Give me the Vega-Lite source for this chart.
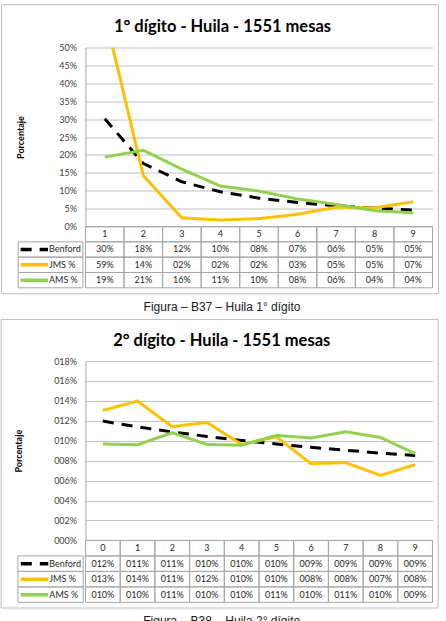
{
  "$schema": "https://vega.github.io/schema/vega-lite/v6.json",
  "background": "white",
  "padding": {"left": 0.5, "top": 3.5, "right": 0, "bottom": 0},
  "config": {"view": {"stroke": null}, "font": "Lato"},
  "spacing": 5.5,
  "datasets": {
    "uno": [
      {"serie": "Benford", "digito": 1, "valor": 0.301},
      {"serie": "Benford", "digito": 2, "valor": 0.176},
      {"serie": "Benford", "digito": 3, "valor": 0.1249},
      {"serie": "Benford", "digito": 4, "valor": 0.0969},
      {"serie": "Benford", "digito": 5, "valor": 0.0792},
      {"serie": "Benford", "digito": 6, "valor": 0.0669},
      {"serie": "Benford", "digito": 7, "valor": 0.058},
      {"serie": "Benford", "digito": 8, "valor": 0.0512},
      {"serie": "Benford", "digito": 9, "valor": 0.0458},
      {"serie": "JMS %", "digito": 1, "valor": 0.593},
      {"serie": "JMS %", "digito": 2, "valor": 0.142},
      {"serie": "JMS %", "digito": 3, "valor": 0.024},
      {"serie": "JMS %", "digito": 4, "valor": 0.018},
      {"serie": "JMS %", "digito": 5, "valor": 0.022},
      {"serie": "JMS %", "digito": 6, "valor": 0.034},
      {"serie": "JMS %", "digito": 7, "valor": 0.054},
      {"serie": "JMS %", "digito": 8, "valor": 0.052},
      {"serie": "JMS %", "digito": 9, "valor": 0.069},
      {"serie": "AMS %", "digito": 1, "valor": 0.194},
      {"serie": "AMS %", "digito": 2, "valor": 0.213},
      {"serie": "AMS %", "digito": 3, "valor": 0.16},
      {"serie": "AMS %", "digito": 4, "valor": 0.113},
      {"serie": "AMS %", "digito": 5, "valor": 0.099},
      {"serie": "AMS %", "digito": 6, "valor": 0.077},
      {"serie": "AMS %", "digito": 7, "valor": 0.062},
      {"serie": "AMS %", "digito": 8, "valor": 0.044},
      {"serie": "AMS %", "digito": 9, "valor": 0.038}
    ],
    "dos": [
      {"serie": "Benford", "digito": 0, "valor": 0.1197},
      {"serie": "Benford", "digito": 1, "valor": 0.1139},
      {"serie": "Benford", "digito": 2, "valor": 0.1088},
      {"serie": "Benford", "digito": 3, "valor": 0.1043},
      {"serie": "Benford", "digito": 4, "valor": 0.1003},
      {"serie": "Benford", "digito": 5, "valor": 0.0967},
      {"serie": "Benford", "digito": 6, "valor": 0.0934},
      {"serie": "Benford", "digito": 7, "valor": 0.0904},
      {"serie": "Benford", "digito": 8, "valor": 0.0876},
      {"serie": "Benford", "digito": 9, "valor": 0.0852},
      {"serie": "JMS %", "digito": 0, "valor": 0.1304},
      {"serie": "JMS %", "digito": 1, "valor": 0.1398},
      {"serie": "JMS %", "digito": 2, "valor": 0.1141},
      {"serie": "JMS %", "digito": 3, "valor": 0.1184},
      {"serie": "JMS %", "digito": 4, "valor": 0.0962},
      {"serie": "JMS %", "digito": 5, "valor": 0.104},
      {"serie": "JMS %", "digito": 6, "valor": 0.077},
      {"serie": "JMS %", "digito": 7, "valor": 0.078},
      {"serie": "JMS %", "digito": 8, "valor": 0.0652},
      {"serie": "JMS %", "digito": 9, "valor": 0.076},
      {"serie": "AMS %", "digito": 0, "valor": 0.0967},
      {"serie": "AMS %", "digito": 1, "valor": 0.096},
      {"serie": "AMS %", "digito": 2, "valor": 0.108},
      {"serie": "AMS %", "digito": 3, "valor": 0.0963},
      {"serie": "AMS %", "digito": 4, "valor": 0.0955},
      {"serie": "AMS %", "digito": 5, "valor": 0.1054},
      {"serie": "AMS %", "digito": 6, "valor": 0.1027},
      {"serie": "AMS %", "digito": 7, "valor": 0.109},
      {"serie": "AMS %", "digito": 8, "valor": 0.1033},
      {"serie": "AMS %", "digito": 9, "valor": 0.087}
    ]
  },
  "vconcat": [
    {
      "title": {"text": "Figura – B37 – Huila 1° dígito", "orient": "bottom", "anchor": "middle", "font": "Liberation Sans", "fontSize": 12, "fontWeight": "normal", "color": "#1a1a1a", "baseline": "middle", "offset": 12.2, "dx": 2},
      "vconcat": [
        {
          "width": 347,
          "height": 179,
          "title": {"text": "1° dígito - Huila - 1551 mesas", "font": "Lato", "fontSize": 16.5, "fontWeight": "bold", "color": "#000000", "anchor": "middle", "frame": "group", "baseline": "middle", "offset": -39.5, "dx": -36.5},
          "resolve": {"scale": {"x": "independent", "y": "independent"}},
          "layer": [
            {
              "data": {"values": [{}]},
              "mark": {"type": "rect", "fill": "transparent", "stroke": "#bcbcbc", "strokeWidth": 1},
              "encoding": {
                "x": {"datum": 0, "scale": {"domain": [0, 1], "range": [-84, 353]}, "axis": null},
                "x2": {"datum": 1},
                "y": {"datum": 0, "scale": {"domain": [0, 1], "range": [-42.7, 246.3]}, "axis": null},
                "y2": {"datum": 1}
              }
            },
            {
              "data": {"name": "uno"},
              "mark": {"type": "line", "strokeWidth": 3, "clip": true, "strokeJoin": "round"},
              "encoding": {
                "x": {"field": "digito", "type": "ordinal", "bandPosition": 0.5, "scale": {"type": "band", "domain": [1, 2, 3, 4, 5, 6, 7, 8, 9], "range": [0, 347], "paddingInner": 0, "paddingOuter": 0}, "axis": null},
                "y": {
                  "field": "valor", "type": "quantitative",
                  "scale": {"domain": [0, 0.5], "range": [179, 0], "nice": false},
                  "axis": {"values": [0, 0.05, 0.1, 0.15, 0.2, 0.25, 0.3, 0.35, 0.4, 0.45, 0.5], "format": ".0%", "title": "Porcentaje", "titleFont": "Lato", "titleFontSize": 9, "titleFontWeight": "bold", "titleColor": "#000000", "titlePadding": 33, "labelFont": "Lato", "labelFontSize": 9, "labelColor": "#404040", "labelPadding": 9, "ticks": false, "domain": true, "domainColor": "#a6a6a6", "grid": true, "gridColor": "#bfbfbf"}
                },
                "color": {"field": "serie", "type": "nominal", "scale": {"domain": ["Benford", "JMS %", "AMS %"], "range": ["#000000", "#FFC000", "#92D050"]}, "legend": null},
                "strokeDash": {"field": "serie", "type": "nominal", "scale": {"domain": ["Benford", "JMS %", "AMS %"], "range": [[11, 8], [1, 0], [1, 0]]}, "legend": null}
              }
            },
            {
              "data": {"name": "uno"},
              "layer": [
                {
                  "transform": [{"filter": "datum.serie === 'Benford'"}],
                  "mark": {"type": "rect", "fill": "transparent", "stroke": "#a6a6a6", "strokeWidth": 1},
                  "encoding": {
                    "x": {"field": "digito", "type": "ordinal", "scale": {"type": "band", "domain": [1, 2, 3, 4, 5, 6, 7, 8, 9], "range": [0, 347], "paddingInner": 0, "paddingOuter": 0}, "axis": null},
                    "y": {"datum": "encabezado", "type": "nominal", "scale": {"type": "band", "domain": ["encabezado", "Benford", "JMS %", "AMS %"], "range": [179, 240.3], "paddingInner": 0, "paddingOuter": 0}, "axis": null}
                  }
                },
                {
                  "transform": [{"filter": "datum.serie === 'Benford'"}],
                  "mark": {"type": "text", "font": "Lato", "fontSize": 9, "color": "#262626", "align": "center", "baseline": "middle"},
                  "encoding": {
                    "x": {"field": "digito", "type": "ordinal", "bandPosition": 0.5},
                    "y": {"datum": "encabezado", "type": "nominal", "bandPosition": 0.5},
                    "text": {"field": "digito", "type": "ordinal"}
                  }
                },
                {
                  "mark": {"type": "rect", "fill": "transparent", "stroke": "#a6a6a6", "strokeWidth": 1},
                  "encoding": {
                    "x": {"field": "digito", "type": "ordinal"},
                    "y": {"field": "serie", "type": "nominal"}
                  }
                },
                {
                  "mark": {"type": "text", "font": "Lato", "fontSize": 9, "color": "#262626", "align": "center", "baseline": "middle"},
                  "encoding": {
                    "x": {"field": "digito", "type": "ordinal", "bandPosition": 0.5},
                    "y": {"field": "serie", "type": "nominal", "bandPosition": 0.5},
                    "text": {"field": "valor", "type": "quantitative", "format": "03.0%"}
                  }
                }
              ]
            },
            {
              "data": {"name": "uno"},
              "transform": [{"aggregate": [{"op": "count", "as": "n"}], "groupby": ["serie"]}],
              "layer": [
                {
                  "mark": {"type": "rect", "fill": "transparent", "stroke": "#a6a6a6", "strokeWidth": 1},
                  "encoding": {
                    "x": {"datum": 0, "scale": {"domain": [0, 67.3], "range": [-67.3, 0]}, "axis": null},
                    "x2": {"datum": 67.3},
                    "y": {"field": "serie", "type": "nominal", "scale": {"type": "band", "domain": ["encabezado", "Benford", "JMS %", "AMS %"], "range": [179, 240.3], "paddingInner": 0, "paddingOuter": 0}, "axis": null}
                  }
                },
                {
                  "mark": {"type": "rule", "strokeWidth": 3.5},
                  "encoding": {
                    "x": {"datum": 2.5},
                    "x2": {"datum": 31},
                    "y": {"field": "serie", "type": "nominal", "bandPosition": 0.5},
                    "color": {"field": "serie", "type": "nominal"},
                    "strokeDash": {"field": "serie", "type": "nominal"}
                  }
                },
                {
                  "mark": {"type": "text", "font": "Lato", "fontSize": 9, "color": "#262626", "align": "left", "baseline": "middle"},
                  "encoding": {
                    "x": {"datum": 32},
                    "y": {"field": "serie", "type": "nominal", "bandPosition": 0.5},
                    "text": {"field": "serie", "type": "nominal"}
                  }
                }
              ]
            }
          ]
        }
      ]
    },
    {
      "title": {"text": "Figura – B38 – Huila 2° dígito", "orient": "bottom", "anchor": "middle", "font": "Liberation Sans", "fontSize": 12, "fontWeight": "normal", "color": "#1a1a1a", "baseline": "middle", "offset": 12.2, "dx": 2},
      "vconcat": [
        {
          "width": 347,
          "height": 179,
          "title": {"text": "2° dígito - Huila - 1551 mesas", "font": "Lato", "fontSize": 16.5, "fontWeight": "bold", "color": "#000000", "anchor": "middle", "frame": "group", "baseline": "middle", "offset": -39, "dx": -37.3},
          "resolve": {"scale": {"x": "independent", "y": "independent"}},
          "layer": [
            {
              "data": {"values": [{}]},
              "mark": {"type": "rect", "fill": "transparent", "stroke": "#bcbcbc", "strokeWidth": 1},
              "encoding": {
                "x": {"datum": 0, "scale": {"domain": [0, 1], "range": [-84.3, 352.7]}, "axis": null},
                "x2": {"datum": 1},
                "y": {"datum": 0, "scale": {"domain": [0, 1], "range": [-41.6, 247]}, "axis": null},
                "y2": {"datum": 1}
              }
            },
            {
              "data": {"name": "dos"},
              "mark": {"type": "line", "strokeWidth": 3, "clip": true, "strokeJoin": "round"},
              "encoding": {
                "x": {"field": "digito", "type": "ordinal", "bandPosition": 0.5, "scale": {"type": "band", "domain": [0, 1, 2, 3, 4, 5, 6, 7, 8, 9], "range": [0, 347], "paddingInner": 0, "paddingOuter": 0}, "axis": null},
                "y": {
                  "field": "valor", "type": "quantitative",
                  "scale": {"domain": [0, 0.18], "range": [179.4, 0], "nice": false},
                  "axis": {"values": [0, 0.02, 0.04, 0.06, 0.08, 0.1, 0.12, 0.14, 0.16, 0.18], "format": "04.0%", "title": "Porcentaje", "titleFont": "Lato", "titleFontSize": 9, "titleFontWeight": "bold", "titleColor": "#000000", "titlePadding": 30, "labelFont": "Lato", "labelFontSize": 9, "labelColor": "#404040", "labelPadding": 9, "ticks": false, "domain": true, "domainColor": "#a6a6a6", "grid": true, "gridColor": "#bfbfbf"}
                },
                "color": {"field": "serie", "type": "nominal", "scale": {"domain": ["Benford", "JMS %", "AMS %"], "range": ["#000000", "#FFC000", "#92D050"]}, "legend": null},
                "strokeDash": {"field": "serie", "type": "nominal", "scale": {"domain": ["Benford", "JMS %", "AMS %"], "range": [[11, 8], [1, 0], [1, 0]]}, "legend": null}
              }
            },
            {
              "data": {"name": "dos"},
              "layer": [
                {
                  "transform": [{"filter": "datum.serie === 'Benford'"}],
                  "mark": {"type": "rect", "fill": "transparent", "stroke": "#a6a6a6", "strokeWidth": 1},
                  "encoding": {
                    "x": {"field": "digito", "type": "ordinal", "scale": {"type": "band", "domain": [0, 1, 2, 3, 4, 5, 6, 7, 8, 9], "range": [0, 347], "paddingInner": 0, "paddingOuter": 0}, "axis": null},
                    "y": {"datum": "encabezado", "type": "nominal", "scale": {"type": "band", "domain": ["encabezado", "Benford", "JMS %", "AMS %"], "range": [179.4, 241.4], "paddingInner": 0, "paddingOuter": 0}, "axis": null}
                  }
                },
                {
                  "transform": [{"filter": "datum.serie === 'Benford'"}],
                  "mark": {"type": "text", "font": "Lato", "fontSize": 9, "color": "#262626", "align": "center", "baseline": "middle"},
                  "encoding": {
                    "x": {"field": "digito", "type": "ordinal", "bandPosition": 0.5},
                    "y": {"datum": "encabezado", "type": "nominal", "bandPosition": 0.5},
                    "text": {"field": "digito", "type": "ordinal"}
                  }
                },
                {
                  "mark": {"type": "rect", "fill": "transparent", "stroke": "#a6a6a6", "strokeWidth": 1},
                  "encoding": {
                    "x": {"field": "digito", "type": "ordinal"},
                    "y": {"field": "serie", "type": "nominal"}
                  }
                },
                {
                  "mark": {"type": "text", "font": "Lato", "fontSize": 9, "color": "#262626", "align": "center", "baseline": "middle"},
                  "encoding": {
                    "x": {"field": "digito", "type": "ordinal", "bandPosition": 0.5},
                    "y": {"field": "serie", "type": "nominal", "bandPosition": 0.5},
                    "text": {"field": "valor", "type": "quantitative", "format": "04.0%"}
                  }
                }
              ]
            },
            {
              "data": {"name": "dos"},
              "transform": [{"aggregate": [{"op": "count", "as": "n"}], "groupby": ["serie"]}],
              "layer": [
                {
                  "mark": {"type": "rect", "fill": "transparent", "stroke": "#a6a6a6", "strokeWidth": 1},
                  "encoding": {
                    "x": {"datum": 0, "scale": {"domain": [0, 67.6], "range": [-67.6, 0]}, "axis": null},
                    "x2": {"datum": 67.6},
                    "y": {"field": "serie", "type": "nominal", "scale": {"type": "band", "domain": ["encabezado", "Benford", "JMS %", "AMS %"], "range": [179.4, 241.4], "paddingInner": 0, "paddingOuter": 0}, "axis": null}
                  }
                },
                {
                  "mark": {"type": "rule", "strokeWidth": 3.5},
                  "encoding": {
                    "x": {"datum": 3},
                    "x2": {"datum": 31.5},
                    "y": {"field": "serie", "type": "nominal", "bandPosition": 0.5},
                    "color": {"field": "serie", "type": "nominal"},
                    "strokeDash": {"field": "serie", "type": "nominal"}
                  }
                },
                {
                  "mark": {"type": "text", "font": "Lato", "fontSize": 9, "color": "#262626", "align": "left", "baseline": "middle"},
                  "encoding": {
                    "x": {"datum": 32.5},
                    "y": {"field": "serie", "type": "nominal", "bandPosition": 0.5},
                    "text": {"field": "serie", "type": "nominal"}
                  }
                }
              ]
            }
          ]
        }
      ]
    }
  ]
}
